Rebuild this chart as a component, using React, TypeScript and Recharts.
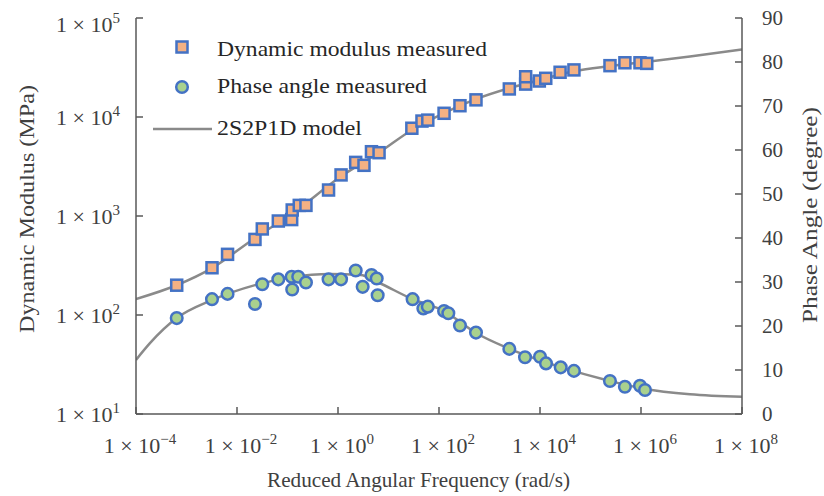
import { ComposedChart, XAxis, YAxis, Line, Scatter, Legend, Label } from 'recharts';

const FONT = '"Liberation Serif", "Times New Roman", serif';
const AXIS = '#595959';
const TEXT = '#404040';
const MODEL = '#8a8a8a';
const SQUARE_FILL = '#F4B183';
const CIRCLE_FILL = '#A9D18E';
const MARKER_EDGE = '#4472C4';

// axis ticks
const freqTicks = [1e-4, 1e-2, 1, 1e2, 1e4, 1e6, 1e8];
const modulusTicks = [1e1, 1e2, 1e3, 1e4, 1e5];
const phaseTicks = [0, 10, 20, 30, 40, 50, 60, 70, 80, 90];

// measured dynamic modulus (rad/s, MPa)
const modulusFreq = [
  6.4e-4, 3.2e-3, 6.5e-3, 0.0227, 0.0317, 0.0658, 0.121, 0.124, 0.171, 0.232,
  0.65, 1.15, 2.24, 3.27, 4.6, 6.5, 29, 46, 60, 126, 260, 540, 2470, 5200, 5200,
  9700, 13000, 25000, 47000, 243000, 480000, 955000, 1.3e6,
];
const modulusMeasured = [
  200, 300, 410, 580, 740, 890, 920, 1150, 1280, 1280,
  1830, 2600, 3480, 3250, 4460, 4360, 7700, 9100, 9300, 10900, 13000, 14900, 19200, 21500, 25500,
  23100, 24600, 28300, 29900, 33000, 35300, 35300, 34800,
];

// measured phase angle (rad/s, degree)
const phaseFreq = [
  6.4e-4, 3.2e-3, 6.5e-3, 0.0227, 0.0317, 0.0658, 0.121, 0.124, 0.163, 0.232,
  0.65, 1.15, 2.24, 3.08, 4.6, 5.84, 6.1, 30, 49, 60, 126, 153, 260, 540,
  2470, 5050, 10000, 13150, 25700, 47000, 243000, 480000, 955000, 1.2e6,
];
const phaseMeasured = [
  21.8, 26.1, 27.3, 25.0, 29.5, 30.6, 31.2, 28.3, 31.2, 29.9,
  30.6, 30.6, 32.6, 28.9, 31.6, 30.8, 27.0, 26.1, 24.0, 24.4, 23.4, 22.9, 20.1, 18.5,
  14.8, 12.9, 13.0, 11.5, 10.6, 9.8, 7.5, 6.2, 6.4, 5.45,
];

// 2S2P1D model curves
const modelModulusFreq = [1e-4, 6.5e-4, 3.2e-3, 0.0227, 0.121, 1.1, 6.7, 29, 126, 540, 2540, 10000, 48800, 2.43e5, 1.2e6, 9.3e6, 1e8];
const modelModulus = [145, 201, 298, 600, 1047, 2477, 4426, 7400, 10960, 15150, 19630, 23650, 29170, 32700, 35950, 40800, 48100];
const modelPhaseFreq = [1e-4, 1.89e-4, 6.4e-4, 3.2e-3, 0.0227, 0.121, 0.7, 2.8, 6, 30, 126, 540, 2500, 25000, 2.43e5, 1.2e6, 9.3e6, 1e8];
const modelPhase = [12.3, 16.1, 21.8, 25.9, 29.3, 31.1, 31.8, 31.6, 30.0, 26.1, 23.4, 18.4, 14.8, 10.7, 7.5, 5.7, 4.5, 3.9];

const zip = (xs: number[], ys: number[]) => xs.map((f, i) => ({ f, v: ys[i] }));

const modulusPoints = zip(modulusFreq, modulusMeasured);
const phasePoints = zip(phaseFreq, phaseMeasured);
const modulusModel = zip(modelModulusFreq, modelModulus);
const phaseModel = zip(modelPhaseFreq, modelPhase);

const fmtExp = (exp: number) => (exp < 0 ? `\u2212${-exp}` : `${exp}`);

const PowerLabel = ({ x, y, anchor, value }: { x: number; y: number; anchor: 'start' | 'middle' | 'end'; value: number }) => {
  const exp = Math.round(Math.log10(value));
  return (
    <text x={x} y={y} textAnchor={anchor} fontSize={22} fill={TEXT} fontFamily={FONT}>
      <tspan>1 × 10</tspan>
      <tspan dy={-9} fontSize={15}>{fmtExp(exp)}</tspan>
    </text>
  );
};

const FreqTick = ({ x, y, payload }: any) => (
  <g>
    <line x1={x} x2={x} y1={y} y2={y - 7} stroke={AXIS} strokeWidth={1.5} />
    <PowerLabel x={x + 4} y={y + 39} anchor="middle" value={payload.value} />
  </g>
);

const ModulusTick = ({ x, y, payload }: any) => (
  <g>
    <line x1={x} x2={x + 7} y1={y} y2={y} stroke={AXIS} strokeWidth={1.5} />
    <PowerLabel x={x - 16} y={Math.max(y + 8, 32)} anchor="end" value={payload.value} />
  </g>
);

const PhaseTick = ({ x, y, payload }: any) => (
  <g>
    <line x1={x} x2={x - 7} y1={y} y2={y} stroke={AXIS} strokeWidth={1.5} />
    <text x={x + 20} y={y + 7} textAnchor="start" fontSize={21} fill={TEXT} fontFamily={FONT}>
      {payload.value}
    </text>
  </g>
);

const SquareMarker = (p: any) => (
  <rect x={p.cx - 5.5} y={p.cy - 5.5} width={11} height={11} fill={SQUARE_FILL} stroke={MARKER_EDGE} strokeWidth={2.5} />
);

const CircleMarker = (p: any) => (
  <circle cx={p.cx} cy={p.cy} r={5.8} fill={CIRCLE_FILL} stroke={MARKER_EDGE} strokeWidth={2.5} />
);

const titleStyle = { fontSize: 22, fill: TEXT, fontFamily: FONT };

const LeftTitle = ({ viewBox }: any) => {
  const cx = viewBox.x + 34;
  const cy = viewBox.y + viewBox.height / 2 - 7;
  return (
    <text x={cx} y={cy} textAnchor="middle" textLength={248} lengthAdjust="spacingAndGlyphs" transform={`rotate(-90 ${cx} ${cy})`} style={titleStyle}>
      Dynamic Modulus (MPa)
    </text>
  );
};

const RightTitle = ({ viewBox }: any) => {
  const cx = viewBox.x + 75;
  const cy = viewBox.y + viewBox.height / 2 - 1;
  return (
    <text x={cx} y={cy} textAnchor="middle" textLength={216} lengthAdjust="spacingAndGlyphs" transform={`rotate(-90 ${cx} ${cy})`} style={titleStyle}>
      Phase Angle (degree)
    </text>
  );
};

const BottomTitle = ({ viewBox }: any) => (
  <text x={viewBox.x + 131} y={viewBox.y + 73} textAnchor="start" textLength={303} lengthAdjust="spacingAndGlyphs" style={{ ...titleStyle, fontSize: 21.5 }}>
    Reduced Angular Frequency (rad/s)
  </text>
);

const LegendBox = () => (
  <svg width={380} height={125} style={{ display: 'block' }}>
    <rect x={36.5} y={21.5} width={11} height={11} fill={SQUARE_FILL} stroke={MARKER_EDGE} strokeWidth={2.5} />
    <circle cx={42} cy={67} r={5.8} fill={CIRCLE_FILL} stroke={MARKER_EDGE} strokeWidth={2.5} />
    <line x1={13} x2={72} y1={109} y2={109} stroke={MODEL} strokeWidth={2.5} />
    <g fontSize={22} fill="#262626" fontFamily={FONT}>
      <text x={77} y={36} textLength={270} lengthAdjust="spacingAndGlyphs">Dynamic modulus measured</text>
      <text x={77} y={73} textLength={210} lengthAdjust="spacingAndGlyphs">Phase angle measured</text>
      <text x={77} y={115} textLength={145} lengthAdjust="spacingAndGlyphs">2S2P1D model</text>
    </g>
  </svg>
);

export default function App() {
  return (
    <div style={{ position: 'absolute', left: 0, top: 0, width: 824, height: 496, background: '#fff' }}>
      <ComposedChart width={824} height={496} margin={{ top: 18, right: 0, bottom: 0, left: 0 }}>
        <XAxis
          dataKey="f"
          type="number"
          scale="log"
          domain={[1e-4, 1e8]}
          allowDataOverflow
          ticks={freqTicks}
          interval={0}
          height={82}
          tickSize={0}
          tickMargin={0}
          tickLine={false}
          tick={<FreqTick />}
          axisLine={{ stroke: AXIS, strokeWidth: 1.5 }}
        >
          <Label content={<BottomTitle />} />
        </XAxis>
        <XAxis
          xAxisId="top"
          dataKey="f"
          orientation="top"
          type="number"
          scale="log"
          domain={[1e-4, 1e8]}
          allowDataOverflow
          height={0}
          tick={false}
          tickLine={false}
          axisLine={{ stroke: AXIS, strokeWidth: 1.5 }}
        />
        <YAxis
          yAxisId="left"
          dataKey="v"
          type="number"
          scale="log"
          domain={[10, 1e5]}
          allowDataOverflow
          ticks={modulusTicks}
          interval={0}
          width={136}
          tickSize={0}
          tickMargin={0}
          tickLine={false}
          tick={<ModulusTick />}
          axisLine={{ stroke: AXIS, strokeWidth: 1.5 }}
        >
          <Label content={<LeftTitle />} />
        </YAxis>
        <YAxis
          yAxisId="right"
          orientation="right"
          dataKey="v"
          type="number"
          domain={[0, 90]}
          allowDataOverflow
          ticks={phaseTicks}
          interval={0}
          width={82}
          tickSize={0}
          tickMargin={0}
          tickLine={false}
          tick={<PhaseTick />}
          axisLine={{ stroke: AXIS, strokeWidth: 1.5 }}
        >
          <Label content={<RightTitle />} />
        </YAxis>

        <Legend
          verticalAlign="middle"
          align="center"
          layout="horizontal"
          wrapperStyle={{ position: 'absolute', left: 140, top: 20, width: 380, height: 125 }}
          content={() => <LegendBox />}
        />

        <Line
          yAxisId="left"
          data={modulusModel}
          dataKey="v"
          type="monotone"
          stroke={MODEL}
          strokeWidth={2.5}
          dot={false}
          activeDot={false}
          isAnimationActive={false}
        />
        <Line
          yAxisId="right"
          data={phaseModel}
          dataKey="v"
          type="monotone"
          stroke={MODEL}
          strokeWidth={2.5}
          dot={false}
          activeDot={false}
          isAnimationActive={false}
        />
        <Scatter yAxisId="left" data={modulusPoints} dataKey="v" shape={SquareMarker} isAnimationActive={false} />
        <Scatter yAxisId="right" data={phasePoints} dataKey="v" shape={CircleMarker} isAnimationActive={false} />
      </ComposedChart>
    </div>
  );
}
